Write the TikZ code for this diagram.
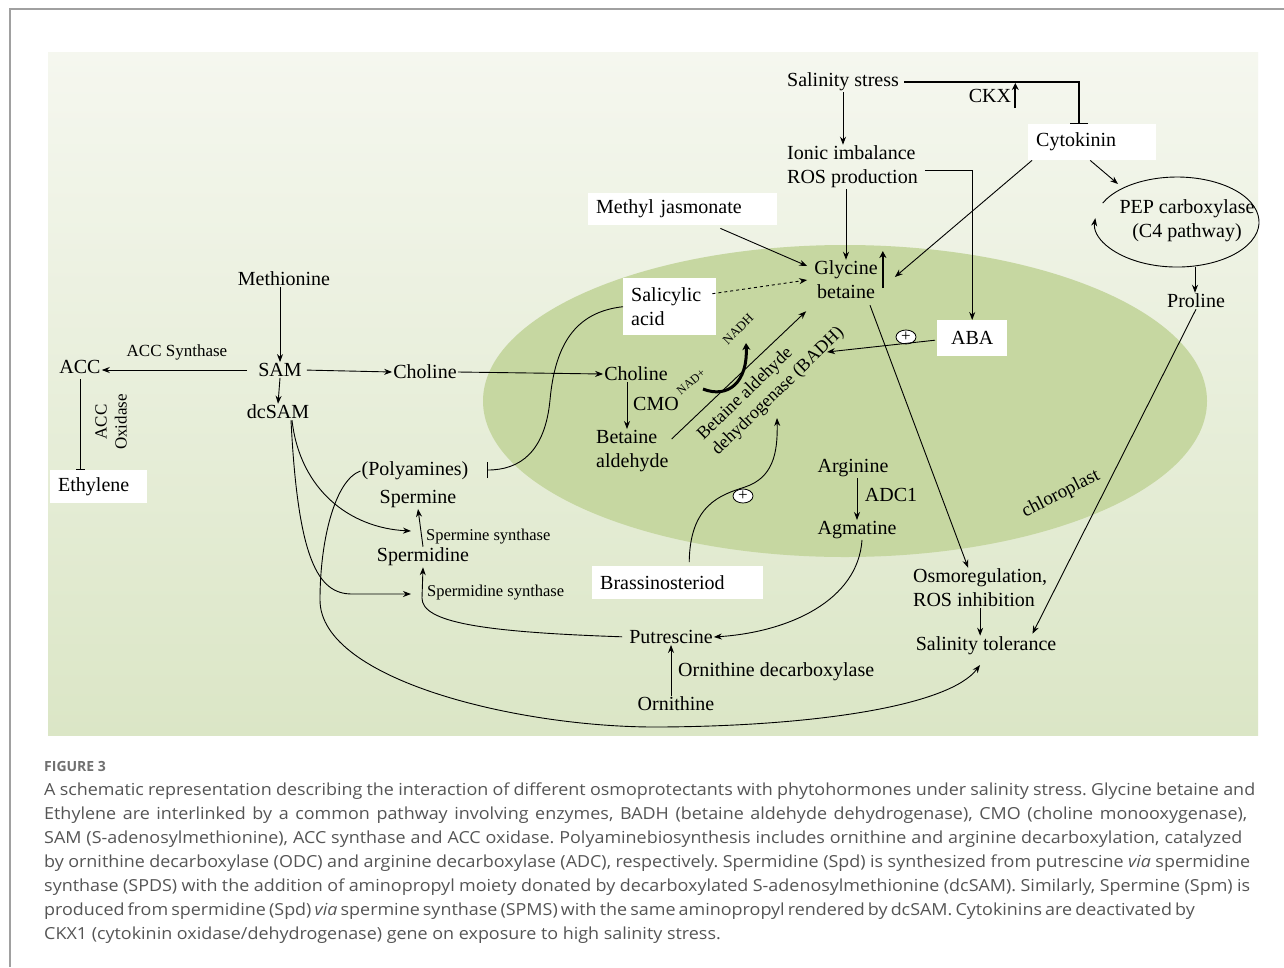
\documentclass[tikz,border=0pt]{standalone}
\usepackage{fontspec}
\setmainfont{Liberation Serif}
\newfontfamily\capfont[FakeStretch=1.08]{Open Sans}
\newfontfamily\figfont{Open Sans}
\usetikzlibrary{arrows.meta,shapes.geometric,calc}
\definecolor{bgtop}{HTML}{F5F7EF}
\definecolor{bgbot}{HTML}{DBE6C6}
\definecolor{chloro}{HTML}{C6D7A1}
\definecolor{framegray}{HTML}{A0A0A0}
\definecolor{capgray}{HTML}{555555}
\definecolor{figgray}{HTML}{707070}
\frenchspacing
\tikzset{
 lbl/.style={font=\fontsize{20}{24}\selectfont, inner sep=1pt},
 sm/.style={font=\fontsize{16.5}{19}\selectfont, inner sep=1pt},
 wbox/.style={fill=white, font=\fontsize{20}{24}\selectfont, inner xsep=8pt, inner ysep=0pt, align=left, anchor=north west},
 arr/.style={line width=0.9pt, -{Stealth[length=8pt,width=6pt]}},
 bigarr/.style={line width=2.4pt, -{Stealth[length=7pt,width=7pt]}},
 inhib/.style={line width=0.9pt, -{Bar[width=#1,line width=0.9pt]}},
 inhib/.default=16pt,
 plus/.style={ellipse, draw, fill=white, line width=0.8pt, minimum width=20pt, minimum height=14pt, inner sep=0pt, font=\fontsize{17}{17}\selectfont},
 capstyle/.style={font=\capfont\fontsize{16.6}{24}\selectfont, text=capgray, inner sep=0pt, anchor=base west}
}
\begin{document}
\begin{tikzpicture}[x=1pt,y=-1pt]
\useasboundingbox (0,0) rectangle (1284,967);
\fill[white] (0,0) rectangle (1284,967);
\draw[framegray, line width=1.2pt] (10,967) -- (10,9) -- (1284,9);
\shade[top color=bgtop, bottom color=bgbot] (48,52) rectangle (1258,735);
\fill[chloro] (845,401) ellipse [x radius=362, y radius=156];

% ---------- nodes ----------
\node[lbl] (sal) at (843,82) {Salinity stress};
\node[lbl] (ckx) at (990,96) {CKX};
\node[wbox, text width=112pt, minimum height=36pt] (cyto) at (1028,124) {Cytokinin};
\node[lbl, align=left, anchor=west] (ion) at (786,167) {Ionic imbalance\\ROS production};
\node[wbox, text width=173pt, minimum height=32pt] (mj) at (588,193) {Methyl jasmonate};
\node[lbl, align=center] (gb) at (846,280) {Glycine\\betaine};
\coordinate (pep) at (1177,222);
\node[lbl, align=center] (pept) at (1187,221) {PEP carboxylase\\(C4 pathway)};
\node[lbl] (pro) at (1196,301) {Proline};
\node[wbox, text width=77pt, minimum height=57pt] (sa) at (623,278) {Salicylic\\acid};
\node[wbox, align=center, text width=54pt, minimum height=36pt] (aba) at (937,320) {ABA};
\node[lbl] (met) at (284,279) {Methionine};
\node[lbl] (sam) at (280,370) {SAM};
\node[lbl] (dcsam) at (278,412) {dcSAM};
\node[lbl] (acc) at (80,367) {ACC};
\node[font=\fontsize{17}{20}\selectfont, inner sep=1pt] (accs) at (177,352) {ACC Synthase};
\node[font=\fontsize{17}{20}\selectfont, inner sep=1pt, rotate=90, align=center] (acco) at (111,422) {ACC\\Oxidase};
\node[wbox, text width=81pt, minimum height=33pt] (eth) at (50,470) {Ethylene};
\node[lbl] (cho1) at (425,372) {Choline};
\node[lbl] (cho2) at (636,374) {Choline};
\node[lbl] (cmo) at (656,404) {CMO};
\node[lbl, align=left, anchor=west] (bald) at (595,451) {Betaine\\aldehyde};
\node[font=\fontsize{18}{21}\selectfont, inner sep=0pt, rotate=44, align=left] (badh) at (771,384) {Betaine aldehyde\\dehydrogenase (BADH)};
\node[font=\fontsize{12}{12}\selectfont, inner sep=0pt, rotate=40] (nadp) at (691,382) {NAD+};
\node[font=\fontsize{13}{13}\selectfont, inner sep=0pt, rotate=45] (nadh) at (738,329) {NADH};
\node[plus] (plus1) at (906,337) {+};
\node[lbl] (arg) at (853,468) {Arginine};
\node[lbl] (adc) at (891,495) {ADC1};
\node[lbl] (agm) at (857,530) {Agmatine};
\node[font=\fontsize{19}{19}\selectfont, inner sep=0pt, rotate=27] (chl) at (1061,494) {chloroplast};
\node[wbox, text width=155pt, minimum height=33pt] (bras) at (592,566) {Brassinosteriod};
\node[plus] (plus2) at (743,496) {+};
\node[lbl] (pa) at (415,471) {(Polyamines)};
\node[lbl] (spm) at (418,499) {Spermine};
\node[sm, anchor=west] (spms) at (425,537) {Spermine synthase};
\node[lbl] (spd) at (423,557) {Spermidine};
\node[sm, anchor=west] (spds) at (426,593) {Spermidine synthase};
\node[lbl] (put) at (671,637) {Putrescine};
\node[lbl, anchor=west] (odc) at (677,672) {Ornithine decarboxylase};
\node[lbl] (orn) at (676,704) {Ornithine};
\node[lbl, align=left, anchor=west] (osm) at (912,588) {Osmoregulation,\\ROS inhibition};
\node[lbl] (st) at (986,646) {Salinity tolerance};

% ---------- connectors ----------
\draw[inhib=18pt, line width=1.5pt, shorten <=4pt] (sal.east) -| ([xshift=-13pt]cyto.north);
\draw[bigarr, line width=1.8pt] ($(ckx.east)+(3,12)$) -- ($(ckx.east)+(3,-13)$);
\draw[arr] (sal.south) -- (sal.south |- ion.north);
\draw[arr] (gb.north |- ion.south) -- (gb.north);
\draw[arr, shorten <=6pt] ([yshift=-3pt]ion.east) -| (aba.north);
\draw[arr] ($(mj.south east)+(-57,3)$) -- ($(gb.west)+(-6,-14)$);
\draw[arr, dashed] ($(sa.east)+(-4,-13)$) -- ($(gb.west)+(-6,0)$);
\draw[arr] ([xshift=4pt]cyto.south west) -- ($(gb.east)+(16,-3)$);
\draw[bigarr] ($(gb.east)+(4,8)$) -- ($(gb.east)+(4,-29)$);
\draw[arr] ([xshift=-2pt]cyto.south) -- (1118,184);
\draw[arr] ($(pep)+(-74.3,-19)$) arc[start angle=-155, end angle=185, x radius=82, y radius=45];
\coordinate (pepbot) at (1195,267);
\draw[arr] (pepbot) -- (pepbot |- pro.north);
\draw[arr] (pro.south) -- ($(st.north east)+(-25,-2)$);
\draw[arr] ($(gb.south)+(24,5)$) -- ($(osm.north)+(-12,0)$);
\draw[arr] (osm.south) -- (osm.south |- st.north);
\coordinate (badhtip) at (827,352);
\draw[arr] ($(aba.west)+(-2,2)$) -- (badhtip);
\draw[arr] (sam.north |- met.south) -- (sam.north);
\draw[arr, shorten <=10pt] (sam.west) -- (acc.east |- sam.west);
\draw[arr] (sam.south) -- (dcsam.north);
\draw[arr, shorten <=4pt] (sam.east) -- (cho1.west);
\draw[arr] (cho1.east) -- (cho2.west);
\draw[inhib=9pt, shorten <=4pt] (acc.south) -- (acc.south |- eth.north);
\draw[arr] ($(cho2.south)+(-9,0)$) -- ($(bald.north west)+(32,0)$);
\draw[arr] ($(bald.north east)+(2,10)$) -- ($(gb.south west)+(-7,11)$);
\draw[line width=3pt, -{Stealth[length=7pt,width=8pt]}] (703,389) .. controls (728,399) and (748,382) .. (746,343);
\draw[arr] ($(bras.north)+(11.5,-4)$) .. controls (690,505) and (720,495) .. (745,487) .. controls (772,478) and (778,455) .. (777,418);
\draw[arr] (arg.south -| agm.north) -- (agm.north);
\draw[arr] ($(agm.south)+(5,0)$) .. controls (858,600) and (790,632) .. (put.east);
\draw[arr] (put.south |- orn.north) -- (put.south);
\draw[arr, shorten <=6pt] (put.west) .. controls (480,632) and (422,622) .. (422,598) -- (spd.south);
\draw[arr] (spd.north) -- (spm.south);
\draw[arr] ($(dcsam.south)+(14,0)$) .. controls (300,490) and (350,528) .. (411,531);
\draw[arr] ($(dcsam.south)+(13,0)$) .. controls (298,560) and (318,594) .. (352,594) -- (411,594);
\draw[inhib=16pt] (sa.west) .. controls (575,312) and (555,345) .. (550,400) .. controls (545,452) and (520,470) .. (487,470);
\draw[arr] (pa.west) .. controls (335,480) and (320,540) .. (320,600) .. controls (320,680) and (520,728) .. (660,727) .. controls (820,726) and (950,705) .. (980,665);

% ---------- caption ----------
\node[capstyle, font=\figfont\bfseries\fontsize{14}{16}\selectfont, text=figgray] (fig) at (44,771) {FIGURE 3};
\node[capstyle] (c1) at (44,795) {\makebox[1211pt][s]{A schematic representation describing the interaction of different osmoprotectants with phytohormones under salinity stress. Glycine betaine and}};
\node[capstyle] (c2) at (44,819) {\makebox[1203pt][s]{Ethylene are interlinked by a common pathway involving enzymes, BADH (betaine aldehyde dehydrogenase), CMO (choline monooxygenase),}};
\node[capstyle] (c3) at (44,843) {\makebox[1198pt][s]{SAM (S-adenosylmethionine), ACC synthase and ACC oxidase. Polyaminebiosynthesis includes ornithine and arginine decarboxylation, catalyzed}};
\node[capstyle] (c4) at (44,867) {\makebox[1206pt][s]{by ornithine decarboxylase (ODC) and arginine decarboxylase (ADC), respectively. Spermidine (Spd) is synthesized from putrescine \textit{via} spermidine}};
\node[capstyle] (c5) at (44,891) {\makebox[1206pt][s]{synthase (SPDS) with the addition of aminopropyl moiety donated by decarboxylated S-adenosylmethionine (dcSAM). Similarly, Spermine (Spm) is}};
\node[capstyle] (c6) at (44,915) {\makebox[1148pt][s]{produced from spermidine (Spd) \textit{via} spermine synthase (SPMS) with the same aminopropyl rendered by dcSAM. Cytokinins are deactivated by}};
\node[capstyle] (c7) at (44,939) {CKX1 (cytokinin oxidase/dehydrogenase) gene on exposure to high salinity stress.};
\end{tikzpicture}
\end{document}
